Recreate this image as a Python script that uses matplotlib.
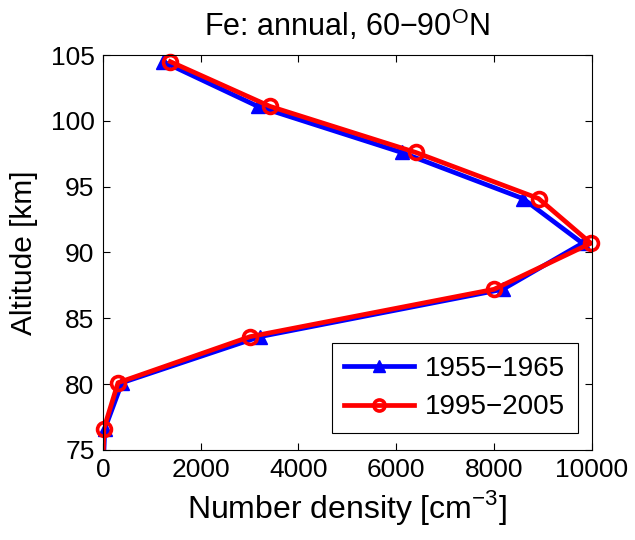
import matplotlib
matplotlib.use('Agg')
import matplotlib.pyplot as plt
from matplotlib.lines import Line2D

plt.rcParams['font.family'] = ['Liberation Sans', 'DejaVu Sans']

# Altitude levels [km]
alt = [104.5, 101.1, 97.6, 94.1, 90.7, 87.2, 83.6, 80.1, 76.6, 73.1]
# Fe number density [cm^-3]
fe_1955 = [1230, 3170, 6110, 8590, 9810, 8180, 3210, 390, 40, 0]
fe_1995 = [1380, 3420, 6400, 8910, 9980, 8000, 3010, 310, 20, 0]

labels = ['1955\u22121965', '1995\u22122005']

fig = plt.figure(figsize=(6.35, 5.4), dpi=100)
ax = fig.add_axes([0.162, 0.167, 0.770, 0.731])

lw = 3.4
# lines are clipped to the axes, markers are not (MATLAB style)
ax.plot(fe_1955, alt, color='blue', linewidth=lw)
ax.plot(fe_1955[:-1], alt[:-1], linestyle='none', marker='^', markersize=10,
        color='blue', clip_on=False)
ax.plot(fe_1995, alt, color='red', linewidth=lw)
ax.plot(fe_1995[:-1], alt[:-1], linestyle='none', marker='o', markersize=10,
        markerfacecolor='none', markeredgecolor='red', markeredgewidth=2.6,
        clip_on=False)

ax.set_xlim(0, 10000)
ax.set_ylim(75, 105)
ax.set_xticks([0, 2000, 4000, 6000, 8000, 10000])
ax.set_yticks([75, 80, 85, 90, 95, 100, 105])
ax.tick_params(direction='in', top=True, right=True, labelsize=19, length=5, width=0.8, pad=6)
for s in ax.spines.values():
    s.set_linewidth(0.8)

ax.set_xlabel('Number density [cm$^{\\mathregular{-3}}$]', fontsize=23, labelpad=4)
ax.set_ylabel('Altitude [km]', fontsize=21.5, labelpad=9)
ax.set_title('Fe: annual, 60\u221290$^{\\mathregular{O}}$N', fontsize=22, pad=14)

handles = [
    Line2D([], [], color='blue', linewidth=lw, marker='^', markersize=9),
    Line2D([], [], color='red', linewidth=lw, marker='o', markersize=8,
           markerfacecolor='none', markeredgewidth=2.6),
]
leg = ax.legend(handles, labels, loc='lower right', fontsize=20, fancybox=False,
                edgecolor='black', framealpha=1, handlelength=2.5, borderpad=0.45,
                labelspacing=0.45, handletextpad=0.4, borderaxespad=0,
                bbox_to_anchor=(0.971, 0.043))
leg.get_frame().set_linewidth(0.8)

fig.savefig('out.png', dpi=100)
